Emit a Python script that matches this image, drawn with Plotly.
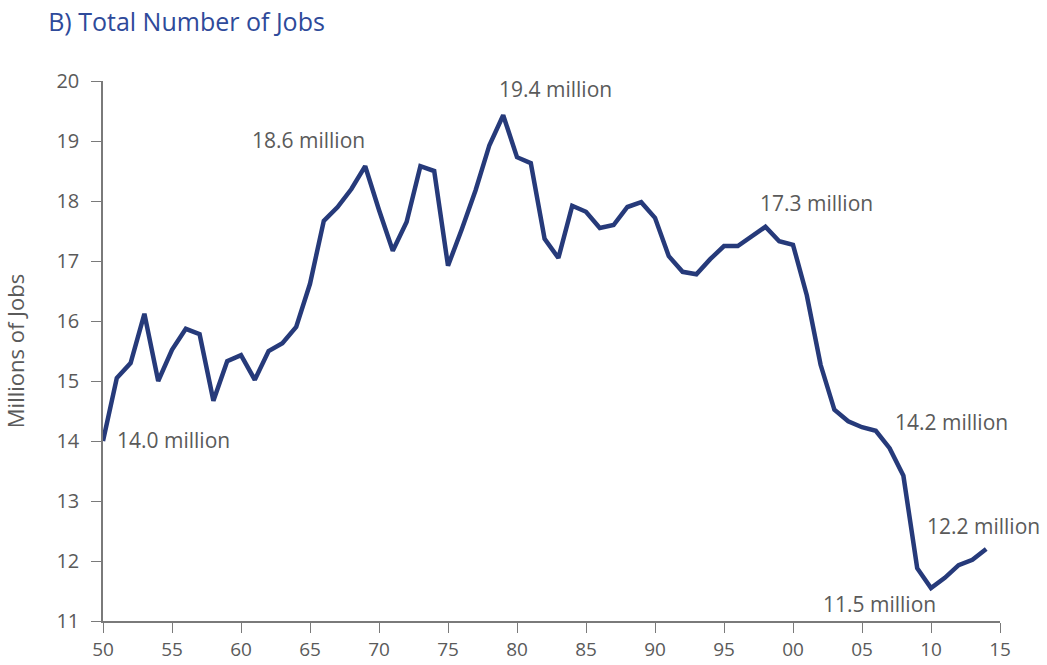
import plotly.graph_objects as go

years = list(range(1950, 2015))
jobs = [14.0, 15.05, 15.3, 16.12, 15.0, 15.52, 15.87, 15.78, 14.67, 15.33,
        15.43, 15.02, 15.5, 15.63, 15.9, 16.62, 17.67, 17.9, 18.2, 18.58,
        17.85, 17.17, 17.65, 18.58, 18.5, 16.92, 17.53, 18.18, 18.93, 19.43,
        18.73, 18.63, 17.37, 17.05, 17.92, 17.82, 17.55, 17.6, 17.9, 17.98,
        17.72, 17.08, 16.82, 16.78, 17.03, 17.25, 17.25, 17.42, 17.57, 17.33,
        17.27, 16.43, 15.27, 14.52, 14.33, 14.23, 14.17, 13.88, 13.42, 11.88,
        11.55, 11.72, 11.93, 12.02, 12.2]
years = years[:len(jobs)]

xtick_vals = [1950, 1955, 1960, 1965, 1970, 1975, 1980, 1985, 1990, 1995, 2000, 2005, 2010, 2015]
xtick_text = ["50", "55", "60", "65", "70", "75", "80", "85", "90", "95", "00", "05", "10", "15"]
ytick_vals = list(range(11, 21))

labels = ["14.0 million", "18.6 million", "19.4 million", "17.3 million",
          "14.2 million", "12.2 million", "11.5 million"]
label_x = [1950.87, 1964.9, 1982.8, 2001.7, 2011.5, 2009.6, 2006.3]
label_y = [14.01, 19.01, 19.87, 17.96, 14.31, 12.58, 11.28]
label_anchor = ["left", "center", "center", "center", "center", "left", "center"]

fig = go.Figure()
fig.add_trace(go.Scatter(x=years, y=jobs, mode="lines",
                         line=dict(color="#263a7a", width=4.5),
                         hoverinfo="skip", showlegend=False))

for t, x, y, a in zip(labels, label_x, label_y, label_anchor):
    fig.add_annotation(x=x, y=y, text=t, showarrow=False, xanchor=a, yanchor="middle",
                       font=dict(family="Open Sans", size=21, color="#5a5a5a"))

axis_col = "#7a7a7a"
fig.update_layout(
    width=1047, height=665,
    paper_bgcolor="white", plot_bgcolor="white",
    margin=dict(l=103, r=47, t=81, b=44),
    title=dict(text="B) Total Number of Jobs", x=0.046, xanchor="left",
               y=0.966, yanchor="middle",
               font=dict(family="Open Sans", size=25, color="#2e4a9a")),
    xaxis=dict(range=[1950, 2015], tickvals=xtick_vals, ticktext=xtick_text,
               automargin=False,
               showgrid=False, zeroline=False, showline=True, linecolor=axis_col,
               linewidth=1.5, ticks="outside", ticklen=10, tickcolor=axis_col,
               ticklabelstandoff=0,
               tickfont=dict(family="Open Sans", size=19, color="#5a5a5a")),
    yaxis=dict(range=[11, 20], tickvals=ytick_vals, automargin=False,
               showgrid=False, zeroline=False, showline=True, linecolor=axis_col,
               linewidth=1.5, ticks="outside", ticklen=10, tickcolor=axis_col,
               ticklabelstandoff=8,
               tickfont=dict(family="Open Sans", size=20, color="#5a5a5a"),
               title=dict(text="Millions of Jobs", standoff=30,
                          font=dict(family="Open Sans", size=22, color="#5a5a5a"))),
)

fig.write_html("out.html")
